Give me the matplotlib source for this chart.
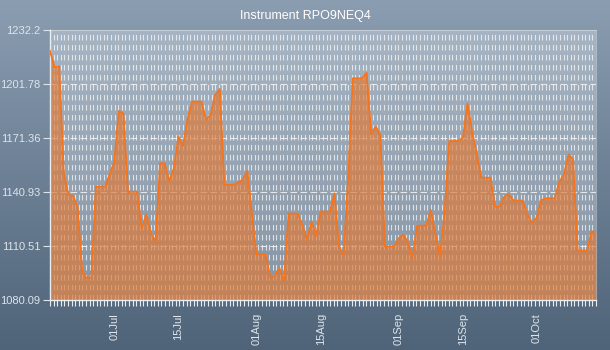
import numpy as np
import pandas as pd
import matplotlib
matplotlib.use("Agg")
import matplotlib.pyplot as plt
import matplotlib.dates as mdates

plt.rcParams["font.family"] = ["Liberation Sans", "DejaVu Sans"]

# Tageskurse (17. Jun - 14. Okt)
start_datum = "2024-06-17"
kurse = [
    1220.4, 1211.2, 1211.9, 1151.6, 1139.4, 1139.0, 1132.8, 1097.2, 1092.5, 1092.8,
    1144.0, 1144.0, 1144.0, 1151.0, 1158.1, 1186.6, 1185.3, 1141.2, 1141.2, 1141.2,
    1120.2, 1128.7, 1117.8, 1113.1, 1157.2, 1157.2, 1147.2, 1154.4, 1172.2, 1167.1,
    1182.5, 1191.9, 1191.9, 1191.9, 1181.9, 1184.4, 1195.6, 1199.0, 1145.0, 1145.0,
    1145.0, 1146.5, 1147.8, 1152.9, 1129.0, 1106.0, 1106.0, 1106.0, 1093.0, 1093.9,
    1098.1, 1091.0, 1128.9, 1128.9, 1128.9, 1122.5, 1114.0, 1124.3, 1116.5, 1130.0,
    1130.0, 1130.0, 1140.3, 1110.3, 1105.6, 1150.0, 1205.0, 1205.0, 1205.0, 1208.2,
    1174.1, 1177.8, 1173.1, 1110.3, 1110.3, 1110.3, 1115.0, 1116.9, 1113.1, 1103.7,
    1122.1, 1122.1, 1122.1, 1130.9, 1117.8, 1105.0, 1130.0, 1169.7, 1169.7, 1169.7,
    1171.6, 1190.9, 1175.0, 1162.8, 1149.1, 1149.1, 1149.1, 1132.8, 1132.8, 1138.4,
    1139.9, 1136.2, 1136.2, 1136.2, 1128.9, 1123.8, 1126.2, 1136.2, 1137.5, 1137.5,
    1137.5, 1146.8, 1150.6, 1162.3, 1159.4, 1108.0, 1108.0, 1108.0, 1118.7, 1118.7,
]
y_ticks = [1080.09, 1110.51, 1140.93, 1171.36, 1201.78, 1232.2]
titel = "Instrument RPO9NEQ4"

datum = pd.date_range(start_datum, periods=len(kurse), freq="D")
x = mdates.date2num(datum.to_pydatetime())

fig = plt.figure(figsize=(6.1, 3.5), dpi=100)

# Hintergrund mit Verlauf
bg = fig.add_axes([0, 0, 1, 1], zorder=-10)
verlauf = np.linspace(0, 1, 256).reshape(-1, 1)
oben = np.array([138, 157, 177]) / 255
unten = np.array([80, 100, 121]) / 255
bild = oben + (unten - oben) * verlauf[:, :, None]
bg.imshow(bild, aspect="auto", extent=[0, 1, 0, 1])
bg.axis("off")

ax = fig.add_axes([50 / 610, 1 - 300.3 / 350, 546 / 610, 270.3 / 350])
ax.set_facecolor((1, 1, 1, 0.28))

# Gitternetz
gitter_x = np.linspace(x[0], x[-1], 153)
for gx in gitter_x[1:-1]:
    ax.axvline(gx, color="white", alpha=0.7, linewidth=0.8,
               linestyle=(0, (5, 4)), zorder=1)
for gy in y_ticks[1:-1]:
    ax.axhline(gy, color="white", alpha=0.75, linewidth=0.8,
               linestyle=(0, (6, 3)), zorder=1)

# Kursflaeche
ax.fill_between(x, kurse, y_ticks[0], color="#e07a36", alpha=0.68, linewidth=0, zorder=2)
ax.plot(x, kurse, color="#f5741c", linewidth=1.3, zorder=3)

ax.set_xlim(x[0], x[-1])
ax.set_ylim(y_ticks[0], y_ticks[-1])

ax.set_yticks(y_ticks)
ax.set_yticklabels([f"{v:g}" for v in y_ticks])

haupt = [d for d in datum if d.day in (1, 15)]
ax.set_xticks(mdates.date2num([d.to_pydatetime() for d in haupt]))
ax.set_xticklabels([d.strftime("%d%b") for d in haupt], rotation=90)
ax.set_xticks(gitter_x, minor=True)

ax.tick_params(axis="y", colors="#dde4ec", labelsize=8, length=5, width=0.8, pad=2)
ax.tick_params(axis="x", which="major", colors="#dde4ec", labelsize=8, length=0, pad=9)
ax.tick_params(axis="x", which="minor", color="#e8edf2", length=4, width=0.8)

for s in ["left", "bottom"]:
    ax.spines[s].set_color("#e8edf2")
    ax.spines[s].set_linewidth(1.0)
for s in ["top", "right"]:
    ax.spines[s].set_color((1, 1, 1, 0.35))
    ax.spines[s].set_linewidth(0.8)

fig.text(0.5, 1 - 16 / 350, titel, ha="center", va="center", color="white", fontsize=9)

fig.savefig("out.png", dpi=100)
